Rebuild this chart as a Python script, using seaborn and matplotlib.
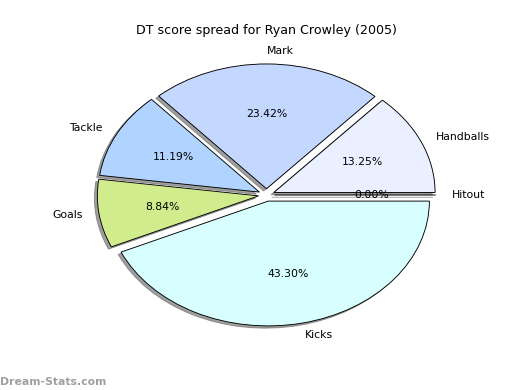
import matplotlib
matplotlib.use("Agg")
import matplotlib.pyplot as plt
import seaborn as sns

sns.set_style("white")
plt.rcParams['font.family'] = ['DejaVu Sans']
plt.rcParams['text.color'] = 'black'

labels = ["Hitout", "Handballs", "Mark", "Tackle", "Goals", "Kicks"]
values = [0.00, 13.25, 23.42, 11.19, 8.84, 43.30]
colors = ["#c8c8ff", "#eaf0ff", "#c4d8ff", "#b0d4ff", "#d0ec8c", "#d8ffff"]

fig = plt.figure(figsize=(8, 6), dpi=65)
ax = fig.add_axes([0.125, 0.1, 0.775, 0.8])
wedges, texts, autotexts = ax.pie(
    values, labels=labels, colors=colors, explode=[0.05] * len(values),
    autopct="%1.2f%%", startangle=0, counterclock=True,
    shadow={'facecolor': '#606060', 'edgecolor': '#606060', 'alpha': 0.6},
    wedgeprops=dict(edgecolor="black", linewidth=1),
    textprops=dict(fontsize=12, color="black"),
)
ax.set_aspect("auto")
ax.set_xlim(-1.25, 1.25)
ax.set_ylim(-1.25, 1.25)
ax.set_title("DT score spread for Ryan Crowley (2005)", fontsize=14, color="black")
fig.text(0.0, 0.008, "Dream-Stats.com", fontsize=12, color="#a0a0a0",
         fontweight="bold", ha="left", va="bottom")
fig.savefig("out.png", dpi=65)
